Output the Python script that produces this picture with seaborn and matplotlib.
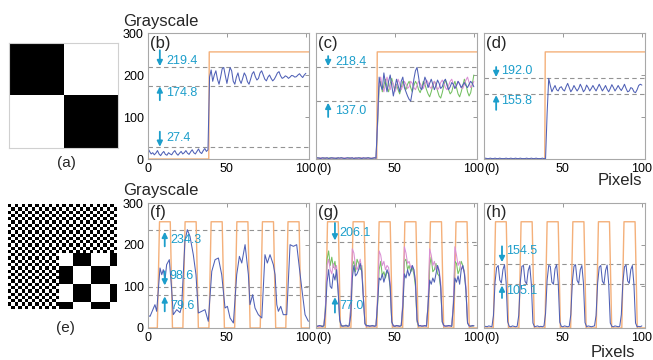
import numpy as np
import matplotlib
matplotlib.use('Agg')
import matplotlib.pyplot as plt
import seaborn as sns

sns.set_theme(style='white')
plt.rcParams['font.family'] = ['Liberation Sans', 'DejaVu Sans']

# ---------------- data ----------------
x_int = list(range(101))

# ideal (orange) profiles: corner points
orange_top_x = [0, 38.5, 38.8, 102]
orange_top_y = [0, 0, 255, 255]
orange_bot_x = [0, 5.9, 7.3, 14.1, 15.5, 22.1, 23.5, 30.5, 31.9, 38.6, 40.0, 47.0, 48.4,
                54.9, 56.3, 63.3, 64.7, 71.1, 72.5, 79.5, 80.9, 87.3, 88.7, 95.7, 97.1, 102]
orange_bot_y = [0, 0, 255, 255, 0, 0, 255, 255, 0, 0, 255, 255, 0,
                0, 255, 255, 0, 0, 255, 255, 0, 0, 255, 255, 0, 0]

# (b) measured profile
blue_b = [25, 18, 12, 15, 10, 14, 20, 12, 8, 14, 18, 11, 9, 15, 12, 10, 16, 20, 13, 9,
          14, 18, 12, 15, 20, 14, 11, 17, 22, 15, 12, 18, 24, 16, 13, 20, 25, 18, 22,
          195, 212, 185, 200, 210, 190, 178, 195, 215, 218, 198, 180, 200, 218, 210, 185,
          178, 195, 205, 188, 180, 192, 205, 198, 184, 178, 190, 203, 208, 196, 188, 192,
          205, 210, 200, 190, 186, 195, 200, 192, 186, 190, 197, 205, 208, 198, 192, 194,
          198, 196, 192, 195, 199, 198, 195, 196, 200, 203, 198, 194, 200, 204]

# (c) three measured profiles
blue_c = [2, 3, 2, 1, 3, 2, 2, 3, 1, 2, 3, 2, 2, 1, 3, 2, 3, 2, 1, 2, 3, 2, 2, 3, 1, 2,
          2, 3, 2, 1, 3, 2, 2, 3, 2, 1, 2, 3, 2,
          90, 195, 175, 165, 205, 180, 160, 185, 200, 175,
          150, 170, 190, 175, 160, 185, 195, 170, 160, 150,
          142, 138, 160, 190, 210, 218, 195, 170, 165, 178,
          195, 185, 170, 180, 190, 178, 165, 175, 188, 180,
          168, 172, 185, 190, 175, 165, 172, 182, 178, 168,
          175, 185, 178, 170, 176, 182, 175, 170, 178, 185,
          180, 172]
magenta_c = [3, 2, 2, 3, 1, 2, 3, 2, 2, 1, 2, 3, 2, 2, 3, 1, 2, 2, 3, 2, 2, 1, 3, 2, 2,
             3, 2, 1, 2, 3, 2, 2, 3, 1, 2, 2, 3, 2, 2,
             85, 180, 195, 170, 160, 180, 195, 175, 165, 185,
             178, 160, 170, 190, 180, 165, 175, 185, 178, 168,
             172, 185, 180, 170, 165, 175, 185, 180, 172, 168,
             178, 188, 182, 172, 168, 178, 185, 175, 165, 170,
             182, 188, 180, 170, 165, 175, 185, 190, 178, 168,
             175, 185, 180, 170, 168, 178, 188, 195, 182, 170,
             175, 185]
green_c = [1, 2, 3, 2, 2, 3, 1, 2, 2, 3, 2, 2, 1, 3, 2, 2, 3, 2, 1, 2, 2, 3, 2, 2, 1,
           3, 2, 2, 3, 2, 1, 2, 2, 3, 2, 2, 1, 3, 2,
           80, 170, 185, 160, 175, 190, 170, 160, 180, 192,
           175, 165, 178, 165, 155, 170, 185, 175, 165, 178,
           185, 170, 160, 175, 185, 178, 165, 158, 170, 185,
           178, 165, 155, 148, 160, 175, 185, 178, 162, 150,
           145, 158, 175, 188, 180, 165, 155, 160, 175, 185,
           170, 155, 148, 160, 175, 190, 178, 160, 150, 158,
           178, 200]

# (d) measured profile
blue_d = [1, 2, 1, 1, 2, 1, 1, 2, 1, 1, 2, 1, 1, 1, 2, 1, 1, 2, 1, 1,
          2, 1, 1, 2, 1, 1, 1, 2, 1, 1, 2, 1, 1, 2, 1, 1, 1, 2, 1, 1,
          110, 192, 175, 160, 168, 175, 165, 162, 170, 172,
          165, 162, 172, 180, 170, 160, 166, 175, 168, 162,
          168, 178, 170, 160, 165, 176, 170, 162, 168, 175,
          168, 162, 170, 178, 170, 162, 168, 175, 166, 160,
          168, 177, 170, 162, 168, 175, 168, 163, 170, 178,
          168, 160, 162, 170, 168, 160, 158, 165, 175, 178,
          176]

# (f) measured profile (sampled points)
blue_f_x = [0, 1.3, 4.4, 5.5, 7.6, 8.7, 9.7, 10.8, 11.8, 13.5, 15.0, 16.0, 18.2, 20.3, 21.3,
            23.4, 24.9, 26.6, 28.7, 30.4, 31.9, 34.0, 36.1, 38.2, 40.4, 42.5, 44.6, 46.7,
            48.8, 50.3, 52.0, 54.1, 56.2, 57.9, 59.4, 61.5, 63.6, 64.6, 66.3, 67.8, 69.9,
            72.1, 74.1, 75.6, 77.3, 79.4, 80.5, 81.6, 82.6, 84.1, 85.7, 87.9, 90.0, 92.1,
            94.2, 95.9, 97.4, 99.5, 101.6]
blue_f_y = [30, 28, 56, 40, 144, 128, 140, 116, 152, 164, 92, 32, 44, 37, 51,
            208, 236, 220, 176, 128, 36, 40, 44, 16, 136, 164, 168, 128,
            48, 52, 24, 12, 128, 172, 156, 200, 128, 56, 80, 48, 32,
            24, 176, 156, 176, 152, 128, 56, 40, 52, 32, 32, 200, 196,
            200, 144, 96, 32, 16]

# (g) three measured profiles
blue_g = [5, 4, 6, 5, 3, 6,
          40, 110, 140, 100, 95, 130, 115, 140, 90, 20,
          6, 4, 5, 7, 4, 5,
          30, 120, 150, 125, 130, 140, 155, 135, 70, 10,
          5, 6, 4, 5, 6, 4, 5,
          60, 120, 115, 130, 110, 125, 140, 130, 100, 15,
          5, 4, 6, 5, 4, 6,
          50, 130, 120, 140, 125, 135, 150, 140, 110, 20,
          5, 6, 4, 5, 6, 4,
          55, 115, 105, 120, 110, 130, 150, 135, 100, 15,
          6, 4, 5, 6, 5, 4,
          50, 120, 110, 125, 105, 140, 150, 130, 90, 12,
          5, 4, 6, 5]
magenta_g = [4, 5, 3, 5, 4, 6,
             50, 150, 165, 140, 130, 155, 140, 150, 100, 20,
             5, 4, 6, 5, 4, 5,
             50, 190, 180, 150, 140, 150, 165, 140, 80, 10,
             4, 5, 6, 4, 5, 4, 6,
             70, 185, 175, 150, 160, 140, 150, 145, 110, 15,
             4, 6, 5, 4, 5, 6,
             65, 195, 180, 155, 160, 145, 150, 140, 115, 18,
             5, 4, 6, 5, 4, 6,
             60, 190, 175, 150, 160, 140, 150, 140, 110, 15,
             4, 6, 5, 4, 5, 6,
             60, 195, 175, 150, 160, 140, 145, 135, 100, 14,
             5, 4, 6, 5]
green_g = [6, 4, 5, 6, 5, 4,
           55, 165, 185, 150, 170, 145, 160, 130, 95, 18,
           4, 6, 5, 4, 6, 5,
           45, 150, 160, 135, 165, 155, 140, 150, 75, 12,
           6, 4, 5, 6, 4, 5, 6,
           55, 140, 160, 125, 135, 120, 135, 130, 95, 14,
           5, 4, 5, 6, 4, 5,
           55, 160, 165, 140, 150, 135, 145, 130, 100, 15,
           4, 5, 6, 4, 5, 6,
           55, 150, 170, 135, 140, 155, 130, 125, 95, 14,
           5, 6, 4, 5, 6, 4,
           55, 160, 155, 130, 140, 160, 150, 135, 90, 12,
           6, 5, 4, 6]

# (h) measured profile
blue_h = [3, 4, 3, 5, 4, 3,
          30, 110, 145, 150, 115, 108, 140, 152, 110, 15,
          4, 3, 5, 4, 3, 4,
          30, 110, 148, 150, 112, 106, 138, 150, 105, 12,
          3, 4, 5, 3, 4, 3, 5,
          35, 115, 150, 148, 110, 105, 142, 152, 110, 14,
          4, 3, 5, 4, 3, 4,
          32, 112, 148, 152, 114, 107, 140, 150, 108, 13,
          3, 5, 4, 3, 4, 5,
          30, 108, 146, 150, 112, 106, 138, 151, 106, 12,
          4, 3, 5, 4, 3, 4,
          32, 110, 147, 151, 113, 107, 140, 150, 104, 12,
          3, 4, 3, 5]

# reference levels (dashed lines + annotations)
levels_b = [219.4, 174.8, 27.4]
levels_c = [218.4, 137.0]
levels_d = [192.0, 155.8]
levels_f = [234.3, 98.6, 79.6]
levels_g = [206.1, 77.0]
levels_h = [154.5, 105.1]

x_ticks = [0, 50, 100]
y_ticks = [0, 100, 200, 300]

# ---------------- figure ----------------
W, H = 653, 360
fig = plt.figure(figsize=(W / 100, H / 100), dpi=100)


def rect(l, t, r, b):
    return [l / W, 1 - b / H, (r - l) / W, (b - t) / H]


ORANGE = '#F4B07A'
BLUE = '#4F60B6'
MAGENTA = '#DA8FD4'
GREEN = '#74C062'
CYAN = '#1C9ECB'
DASH = '#939393'
SPINE = '#A8A8A8'


def style(ax, first, show_y):
    ax.set_xlim(0, 102)
    ax.set_ylim(0, 300)
    ax.set_xticks(x_ticks)
    ax.set_yticks(y_ticks)
    ax.set_xticklabels([first, '50', '100'])
    if first == '(0)':
        ax.get_xticklabels()[0].set_ha('left')
    if not show_y:
        ax.set_yticklabels([])
    ax.tick_params(direction='in', length=3, width=0.6, color='#888888',
                   labelsize=9, top=True, right=True, pad=3, labelcolor='black')
    for s in ax.spines.values():
        s.set_color(SPINE)
        s.set_linewidth(0.8)
    ax.set_xlabel('')
    ax.set_ylabel('')


def line(ax, x, y, color, lw=0.75):
    sns.lineplot(x=x, y=y, ax=ax, color=color, lw=lw, estimator=None,
                 sort=False, legend=False)


def annotate(ax, level, ax_x, tail, head, tx, ty):
    ax.annotate('', xy=(ax_x, head), xytext=(ax_x, tail),
                arrowprops=dict(arrowstyle='-|>', color=CYAN, lw=1.3,
                                mutation_scale=8, shrinkA=0, shrinkB=0))
    ax.text(tx, ty, f'{level:.1f}', color=CYAN, fontsize=9, ha='left', va='center')


def dashed(ax, levels):
    for v in levels:
        ax.axhline(v, color=DASH, lw=0.8, ls=(0, (4, 3)), zorder=1)


# images
ax_a = fig.add_axes(rect(9, 43, 118, 148))
img_a = np.array([[0, 1], [1, 0]])
ax_a.imshow(img_a, cmap='gray', vmin=0, vmax=1, interpolation='nearest', aspect='auto')
ax_a.set_xticks([])
ax_a.set_yticks([])
for s in ax_a.spines.values():
    s.set_color('#D0D0D0')
    s.set_linewidth(0.8)

ax_e = fig.add_axes(rect(8, 204, 117, 309))
n = 96
rr, cc = np.indices((n, n))
fine = ((rr // 3 + cc // 3) % 2).astype(float)
bounds = [57, 73, 90]
br = np.searchsorted(bounds, rr, side='right')
bc = np.searchsorted(bounds, cc, side='right')
big = ((br + bc) % 2 == 0).astype(float)
img_e = np.where((rr >= 45) & (cc >= 45), big, fine)
ax_e.imshow(img_e, cmap='gray', vmin=0, vmax=1, interpolation='nearest', aspect='auto')
ax_e.set_xticks([])
ax_e.set_yticks([])
for s in ax_e.spines.values():
    s.set_visible(False)

fig.text(66 / W, 1 - 163 / H, '(a)', fontsize=11, ha='center', va='center')
fig.text(65 / W, 1 - 328 / H, '(e)', fontsize=11, ha='center', va='center')

# (b)
ax = fig.add_axes(rect(148, 33, 309, 159))
dashed(ax, levels_b)
line(ax, orange_top_x, orange_top_y, ORANGE, 1.0)
line(ax, x_int, blue_b, BLUE)
style(ax, '0', True)
annotate(ax, levels_b[0], 7.5, 259, 221, 11.5, 234)
annotate(ax, levels_b[1], 7.5, 140, 173, 11.5, 156)
annotate(ax, levels_b[2], 7.5, 65, 29, 11.5, 49)
ax.text(1.0, 276, '(b)', fontsize=12, ha='left', va='center')

# (c)
ax = fig.add_axes(rect(316, 33, 477, 159))
dashed(ax, levels_c)
line(ax, orange_top_x, orange_top_y, ORANGE, 1.0)
line(ax, x_int, green_c, GREEN)
line(ax, x_int, magenta_c, MAGENTA)
line(ax, x_int, blue_c, BLUE)
style(ax, '(0)', False)
annotate(ax, levels_c[0], 7.7, 245, 221, 12.3, 232)
annotate(ax, levels_c[1], 7.7, 100, 134, 12.3, 115)
ax.text(1.0, 276, '(c)', fontsize=12, ha='left', va='center')

# (d)
ax = fig.add_axes(rect(484, 33, 645, 159))
dashed(ax, levels_d)
line(ax, orange_top_x, orange_top_y, ORANGE, 1.0)
line(ax, x_int, blue_d, BLUE)
style(ax, '(0)', False)
annotate(ax, levels_d[0], 7.7, 219, 195, 10.5, 210)
annotate(ax, levels_d[1], 7.7, 117, 152, 10.5, 137)
ax.text(1.0, 276, '(d)', fontsize=12, ha='left', va='center')

# (f)
ax = fig.add_axes(rect(148, 203, 309, 328))
dashed(ax, levels_f)
line(ax, orange_bot_x, orange_bot_y, ORANGE, 1.0)
line(ax, blue_f_x, blue_f_y, BLUE)
style(ax, '0', True)
annotate(ax, levels_f[0], 10.6, 196, 231, 14.0, 212)
annotate(ax, levels_f[1], 10.6, 136, 102, 13.5, 124)
annotate(ax, levels_f[2], 10.6, 40, 76, 14.0, 52)
ax.text(1.0, 276, '(f)', fontsize=12, ha='left', va='center')

# (g)
ax = fig.add_axes(rect(316, 203, 477, 328))
dashed(ax, levels_g)
line(ax, orange_bot_x, orange_bot_y, ORANGE, 1.0)
line(ax, x_int, green_g, GREEN)
line(ax, x_int, magenta_g, MAGENTA)
line(ax, x_int, blue_g, BLUE)
style(ax, '(0)', False)
annotate(ax, levels_g[0], 12.0, 252, 210, 15.0, 229)
annotate(ax, levels_g[1], 12.0, 37, 74, 15.0, 52)
ax.text(1.0, 276, '(g)', fontsize=12, ha='left', va='center')

# (h)
ax = fig.add_axes(rect(484, 203, 645, 328))
dashed(ax, levels_h)
line(ax, orange_bot_x, orange_bot_y, ORANGE, 1.0)
line(ax, x_int, blue_h, BLUE)
style(ax, '(0)', False)
annotate(ax, levels_h[0], 11.4, 196, 158, 14.0, 184)
annotate(ax, levels_h[1], 11.4, 72, 102, 14.0, 88)
ax.text(1.0, 276, '(h)', fontsize=12, ha='left', va='center')

# axis titles
fig.text(123 / W, 1 - 26 / H, 'Grayscale', fontsize=12, ha='left', va='baseline')
fig.text(123 / W, 1 - 195 / H, 'Grayscale', fontsize=12, ha='left', va='baseline')
fig.text(598 / W, 1 - 185 / H, 'Pixels', fontsize=12, ha='left', va='baseline')
fig.text(591 / W, 1 - 357 / H, 'Pixels', fontsize=12, ha='left', va='baseline')

fig.savefig('out.png', dpi=100)
